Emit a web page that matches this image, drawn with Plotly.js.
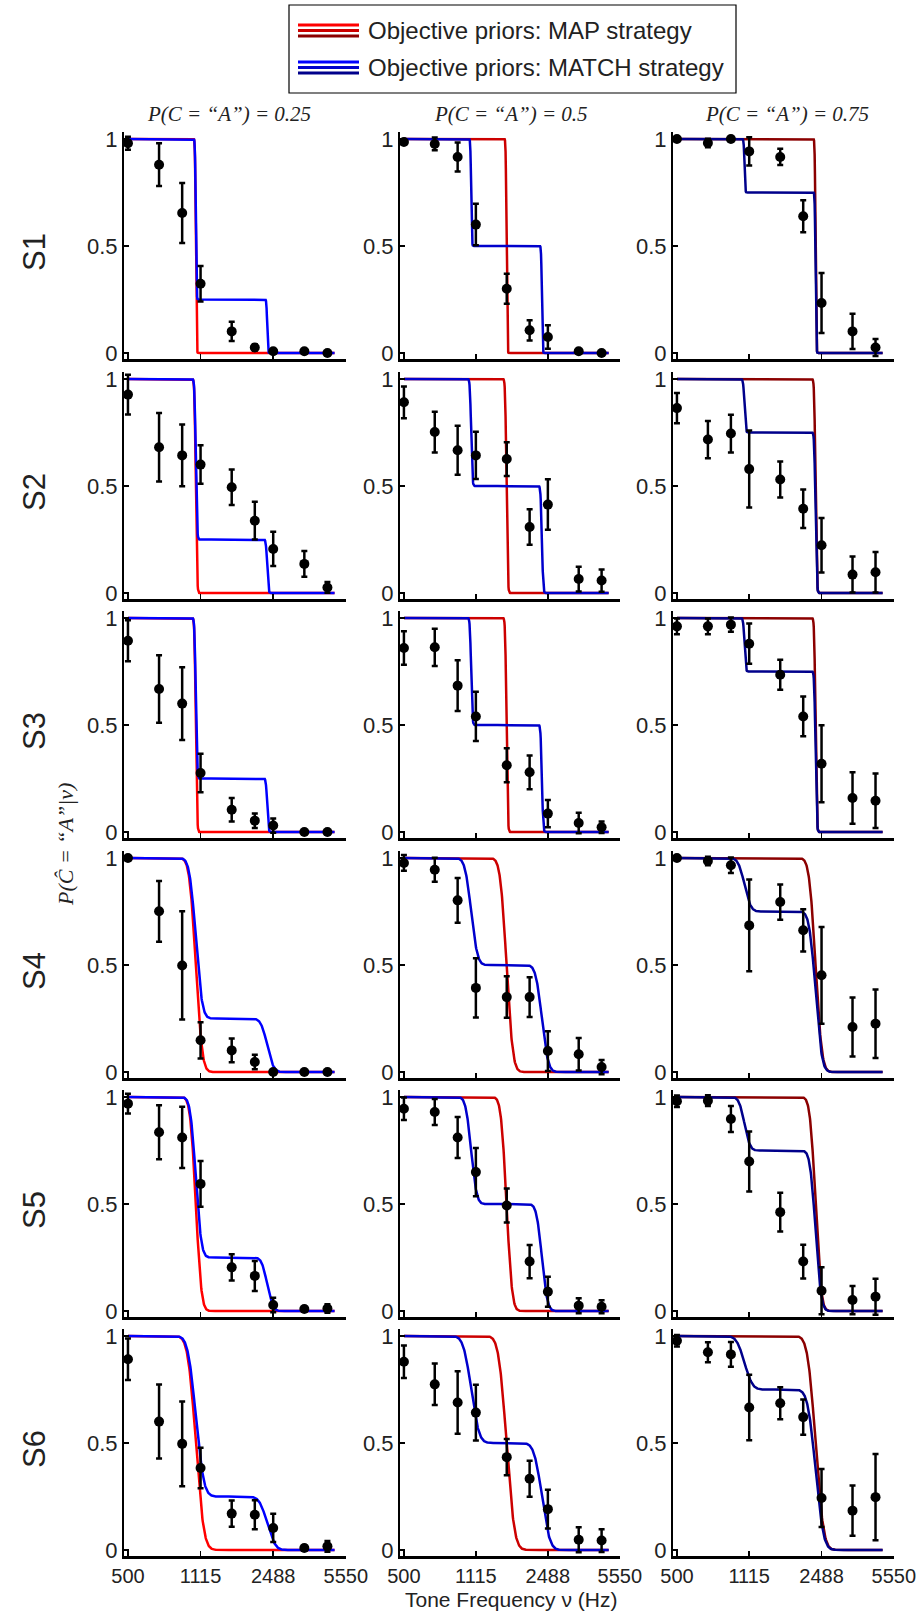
<!DOCTYPE html>
<html><head><meta charset="utf-8">
<script src="https://cdn.plot.ly/plotly-3.0.1.min.js"></script>
<style>html,body{margin:0;padding:0;background:#fff}#chart{width:922px;height:1611px}</style>
</head><body><div id="chart"></div>
<script>
// ---------- data ----------
const freqs = [500, 705, 910, 1115, 1573, 2030, 2488, 3509, 4529];
const priors = [0.25, 0.5, 0.75];
const subjects = ['S1', 'S2', 'S3', 'S4', 'S5', 'S6'];
const xTickVals = [500, 1115, 2488, 5550];
const xTickText = ['500', '1115', '2488', '5550'];
const yTickVals = [0, 0.5, 1];
const yTickText = ['0', '0.5', '1'];

// observed P(Ĉ="A"|ν), one row per prior (0.25, 0.5, 0.75)
const s1Mean = [[0.98, 0.88, 0.654, 0.324, 0.101, 0.026, 0.008, 0.008, 0.0],
                [0.986, 0.977, 0.916, 0.6, 0.3, 0.106, 0.075, 0.008, 0.0],
                [1.0, 0.981, 1.0, 0.942, 0.916, 0.639, 0.234, 0.101, 0.026]];
const s1Err  = [[0.03, 0.10, 0.14, 0.083, 0.045, 0.015, 0.01, 0.01, 0.008],
                [0.01, 0.03, 0.068, 0.097, 0.07, 0.047, 0.055, 0.01, 0.008],
                [0.006, 0.02, 0.006, 0.066, 0.038, 0.075, 0.14, 0.082, 0.04]];
const s2Mean = [[0.927, 0.681, 0.643, 0.6, 0.494, 0.338, 0.206, 0.136, 0.026],
                [0.891, 0.752, 0.667, 0.643, 0.626, 0.308, 0.413, 0.065, 0.058],
                [0.864, 0.717, 0.745, 0.579, 0.53, 0.394, 0.223, 0.086, 0.097]];
const s2Err  = [[0.093, 0.16, 0.144, 0.09, 0.083, 0.088, 0.08, 0.06, 0.025],
                [0.074, 0.095, 0.115, 0.11, 0.079, 0.083, 0.118, 0.058, 0.052],
                [0.071, 0.087, 0.088, 0.18, 0.084, 0.09, 0.127, 0.084, 0.095]];
const s3Mean = [[0.894, 0.668, 0.6, 0.276, 0.104, 0.053, 0.03, 0.0, 0.0],
                [0.86, 0.863, 0.684, 0.54, 0.312, 0.279, 0.086, 0.042, 0.022],
                [0.961, 0.961, 0.969, 0.88, 0.735, 0.54, 0.319, 0.159, 0.146]];
const s3Err  = [[0.096, 0.158, 0.17, 0.09, 0.055, 0.034, 0.033, 0.006, 0.006],
                [0.078, 0.087, 0.119, 0.115, 0.079, 0.079, 0.064, 0.048, 0.027],
                [0.037, 0.037, 0.033, 0.094, 0.07, 0.093, 0.18, 0.12, 0.127]];
const s4Mean = [[1.0, 0.751, 0.498, 0.148, 0.101, 0.047, 0.0, 0.0, 0.0],
                [0.977, 0.945, 0.802, 0.393, 0.35, 0.35, 0.098, 0.083, 0.023],
                [1.0, 0.986, 0.966, 0.685, 0.794, 0.662, 0.452, 0.21, 0.226]];
const s4Err  = [[0.006, 0.142, 0.253, 0.085, 0.056, 0.034, 0.006, 0.006, 0.006],
                [0.037, 0.056, 0.104, 0.138, 0.097, 0.093, 0.093, 0.076, 0.033],
                [0.006, 0.02, 0.036, 0.214, 0.082, 0.099, 0.226, 0.138, 0.16]];
const s5Mean = [[0.969, 0.835, 0.811, 0.594, 0.204, 0.164, 0.028, 0.009, 0.012],
                [0.945, 0.93, 0.811, 0.649, 0.493, 0.231, 0.09, 0.025, 0.02],
                [0.98, 0.983, 0.897, 0.699, 0.462, 0.231, 0.095, 0.051, 0.067]];
const s5Err  = [[0.046, 0.126, 0.143, 0.107, 0.061, 0.07, 0.034, 0.01, 0.02],
                [0.053, 0.061, 0.096, 0.113, 0.079, 0.078, 0.07, 0.035, 0.03],
                [0.027, 0.025, 0.061, 0.14, 0.09, 0.079, 0.11, 0.066, 0.084]];
const s6Mean = [[0.891, 0.6, 0.496, 0.383, 0.17, 0.165, 0.103, 0.009, 0.017],
                [0.88, 0.774, 0.689, 0.642, 0.434, 0.333, 0.191, 0.048, 0.044],
                [0.978, 0.924, 0.914, 0.666, 0.686, 0.621, 0.243, 0.184, 0.247]];
const s6Err  = [[0.097, 0.173, 0.198, 0.095, 0.061, 0.068, 0.066, 0.012, 0.025],
                [0.076, 0.097, 0.146, 0.13, 0.085, 0.084, 0.091, 0.058, 0.053],
                [0.027, 0.047, 0.058, 0.153, 0.075, 0.082, 0.136, 0.117, 0.202]];
const subjectMeans = [s1Mean, s2Mean, s3Mean, s4Mean, s5Mean, s6Mean];
const subjectErrs  = [s1Err, s2Err, s3Err, s4Err, s5Err, s6Err];

// model parameters (objective priors): category overlap region & per-subject noise (log10 Hz)
const overlapLowHz = 1058;
const overlapHighHz = 2328;
const noiseSigma = [0.003, 0.005, 0.005, 0.024, 0.021, 0.03];
const curveStartHz = 500;
const curveEndHz = 4900;

const mapColors = ['#ff0000', '#cc0000', '#8b0000'];
const matchColors = ['#0000ff', '#0000cc', '#00008b'];

// ---------- model ----------
function erf(x) {
  const s = x < 0 ? -1 : 1; x = Math.abs(x);
  const t = 1 / (1 + 0.3275911 * x);
  const y = 1 - (((((1.061405429 * t - 1.453152027) * t) + 1.421413741) * t - 0.284496736) * t + 0.254829592) * t * Math.exp(-x * x);
  return s * y;
}
function Phi(z) { return 0.5 * (1 + erf(z / Math.SQRT2)); }
const lb1 = Math.log10(overlapLowHz), lb2 = Math.log10(overlapHighHz);
const nCurve = 700;
const curveX = [];
for (let i = 0; i < nCurve; i++) {
  const l = Math.log10(curveStartHz) + (Math.log10(curveEndHz) - Math.log10(curveStartHz)) * i / (nCurve - 1);
  curveX.push(Math.pow(10, l));
}
function matchCurve(p, sig) {
  return curveX.map(x => { const l = Math.log10(x);
    return (1 - p) * Phi((lb1 - l) / sig) + p * Phi((lb2 - l) / sig); });
}
function mapCurve(p, sig) {
  const b = p < 0.5 ? lb1 : (p > 0.5 ? lb2 : (lb1 + lb2) / 2);
  return curveX.map(x => Phi((b - Math.log10(x)) / sig));
}

// ---------- layout geometry (px) ----------
const W = 922, H = 1611;
const colPx = [[124, 346], [400, 620], [673, 894]];
const rowOnePx = [139, 379, 618, 858, 1097, 1336];
const unitPx = 214;
const yRange = [-0.03, 1.033];
const xRange = [Math.log10(478.6), Math.log10(5560)];
const sansFont = 'Liberation Sans, Arial, sans-serif';
const serifFont = 'Liberation Serif, serif';

const traces = [];
const layout = {
  width: W, height: H, margin: {l: 0, r: 0, t: 0, b: 0},
  paper_bgcolor: '#ffffff', plot_bgcolor: 'rgba(0,0,0,0)',
  showlegend: false,
  font: {family: sansFont, color: '#222', size: 22},
  annotations: [], shapes: []
};

for (let r = 0; r < 6; r++) {
  for (let c = 0; c < 3; c++) {
    const k = r * 3 + c + 1;
    const xa = 'x' + (k === 1 ? '' : k), ya = 'y' + (k === 1 ? '' : k);
    const topPx = rowOnePx[r] - (yRange[1] - 1) * unitPx;
    const botPx = rowOnePx[r] + unitPx + (-yRange[0]) * unitPx;
    layout['xaxis' + (k === 1 ? '' : k)] = {
      type: 'log', range: xRange, domain: [colPx[c][0] / W, colPx[c][1] / W], anchor: ya,
      tickvals: xTickVals, ticktext: xTickText, showticklabels: r === 5,
      ticks: 'inside', ticklen: 5, tickwidth: 1.5, tickcolor: '#000',
      showline: true, linewidth: 2.5, linecolor: '#000', mirror: false,
      showgrid: false, zeroline: false, fixedrange: true,
      tickfont: {size: 20, color: '#222', family: sansFont}
    };
    layout['yaxis' + (k === 1 ? '' : k)] = {
      range: yRange, domain: [1 - botPx / H, 1 - topPx / H], anchor: xa,
      tickvals: yTickVals, ticktext: yTickText,
      ticks: 'inside', ticklen: 5, tickwidth: 1.5, tickcolor: '#000',
      showline: true, linewidth: 2, linecolor: '#000',
      showgrid: false, zeroline: false, fixedrange: true,
      tickfont: {size: 22, color: '#222', family: sansFont}
    };
    const p = priors[c], sig = noiseSigma[r];
    traces.push({x: curveX, y: mapCurve(p, sig), xaxis: xa, yaxis: ya, mode: 'lines',
      line: {color: mapColors[c], width: 2.5}, hoverinfo: 'skip'});
    traces.push({x: curveX, y: matchCurve(p, sig), xaxis: xa, yaxis: ya, mode: 'lines',
      line: {color: matchColors[c], width: 2.5}, hoverinfo: 'skip'});
    traces.push({x: freqs, y: subjectMeans[r][c], xaxis: xa, yaxis: ya, mode: 'markers',
      marker: {color: '#000', size: 10},
      error_y: {type: 'data', array: subjectErrs[r][c], visible: true, color: '#000', thickness: 2.5, width: 3}});
  }
  // subject label
  layout.annotations.push({text: subjects[r], xref: 'paper', yref: 'paper',
    x: 34 / W, y: 1 - (rowOnePx[r] + unitPx / 2 + 6) / H, xanchor: 'center', yanchor: 'middle',
    textangle: -90, showarrow: false, font: {size: 31, color: '#222', family: sansFont}});
}

// column titles
const colTitleX = [229, 511, 787];
priors.forEach((p, c) => {
  layout.annotations.push({text: 'P(C = \u201CA\u201D) = ' + p, xref: 'paper', yref: 'paper',
    x: colTitleX[c] / W, y: 1 - 114 / H, xanchor: 'center', yanchor: 'middle', showarrow: false,
    font: {size: 21, color: '#222', family: serifFont, style: 'italic'}});
});
// y title
layout.annotations.push({text: 'P(\u0108 = \u201CA\u201D|\u03BD)', xref: 'paper', yref: 'paper',
  x: 66 / W, y: 1 - 845 / H, xanchor: 'center', yanchor: 'middle', textangle: -90, showarrow: false,
  font: {size: 22, color: '#222', family: serifFont, style: 'italic'}});
// x title
layout.annotations.push({text: 'Tone Frequency \u03BD (Hz)', xref: 'paper', yref: 'paper',
  x: 511 / W, y: 0, xanchor: 'center', yanchor: 'bottom', showarrow: false, borderpad: 0, yshift: -1,
  font: {size: 21, color: '#222', family: sansFont}});

// legend (manual, triple-line swatches)
layout.shapes.push({type: 'rect', xref: 'paper', yref: 'paper', x0: 289 / W, x1: 736 / W,
  y0: 1 - 93 / H, y1: 1 - 5 / H, line: {color: '#000', width: 1.2}, fillcolor: '#fff'});
const legendRows = [{y: 30.5, colors: mapColors, text: 'Objective priors: MAP strategy'},
                    {y: 67.5, colors: matchColors, text: 'Objective priors: MATCH strategy'}];
legendRows.forEach(e => {
  e.colors.forEach((col, i) => {
    const yy = e.y + (i - 1) * 5.5;
    layout.shapes.push({type: 'line', xref: 'paper', yref: 'paper', x0: 298 / W, x1: 359 / W,
      y0: 1 - yy / H, y1: 1 - yy / H, line: {color: col, width: 3}});
  });
  layout.annotations.push({text: e.text, xref: 'paper', yref: 'paper', x: 366 / W, y: 1 - e.y / H,
    xanchor: 'left', yanchor: 'middle', showarrow: false,
    font: {size: 24, color: '#222', family: sansFont}});
});

Plotly.newPlot('chart', traces, layout, {staticPlot: true, displayModeBar: false});
</script>
</body></html>
